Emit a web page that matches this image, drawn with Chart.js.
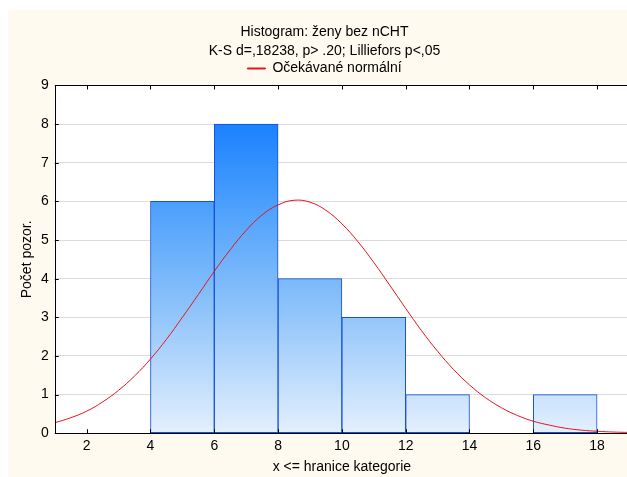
<!DOCTYPE html>
<html>
<head>
<meta charset="utf-8">
<script src="https://cdn.jsdelivr.net/npm/chart.js@4/dist/chart.umd.min.js"></script>
<style>
  html, body { margin:0; padding:0; background:#ffffff; overflow:hidden; }
  #wrap { width:627px; height:477px; overflow:hidden; position:relative; }
  canvas { display:block; }
</style>
</head>
<body>
<div id="wrap"><canvas id="c" width="629" height="477"></canvas></div>
<script>
// ---- data ----
const binCenters = [5, 7, 9, 11, 13, 15, 17];       // bins 4-6, 6-8, ... 16-18
const binCounts  = [6, 8, 4, 3, 1, 0, 1];
const curveX = [1,1.5,2,2.5,3,3.5,4,4.5,5,5.5,6,6.5,7,7.5,8,8.5,9,9.5,10,10.5,11,11.5,12,12.5,13,13.5,14,14.5,15,15.5,16,16.5,17,17.5,18,18.5,19];
const curveY = [0.27,0.40,0.57,0.81,1.11,1.48,1.92,2.43,3.00,3.59,4.19,4.75,5.25,5.65,5.91,6.03,5.98,5.77,5.42,4.96,4.42,3.83,3.23,2.65,2.12,1.65,1.25,0.92,0.66,0.46,0.31,0.21,0.13,0.08,0.05,0.03,0.02];
const xTicks = [2, 4, 6, 8, 10, 12, 14, 16, 18];
const titleLines = ['Histogram: ženy bez nCHT', 'K-S d=,18238, p> .20; Lilliefors p<,05'];
const curveLabel = 'Očekávané normální';
const xTitle = 'x <= hranice kategorie';
const yTitle = 'Počet pozor.';

const FONT = 'Arial, "Liberation Sans", sans-serif';

const barData = binCenters.map((x, i) => ({ x: x, y: binCounts[i] })).filter(p => p.y > 0);
const lineData = curveX.map((x, i) => ({ x: x, y: curveY[i] }));

function barGradient(ctx) {
  const chart = ctx.chart;
  const area = chart.chartArea;
  if (!area) return '#5aa8f8';
  const ys = chart.scales.y;
  const g = chart.ctx.createLinearGradient(0, ys.getPixelForValue(8.2), 0, ys.getPixelForValue(0));
  g.addColorStop(0, 'rgb(22,126,255)');
  g.addColorStop(0.3, 'rgb(80,162,252)');
  g.addColorStop(0.6, 'rgb(140,194,250)');
  g.addColorStop(1, 'rgb(228,240,253)');
  return g;
}

const bgPlugin = {
  id: 'bgPlugin',
  beforeDraw(chart) {
    const c = chart.ctx;
    c.save();
    c.fillStyle = '#fffaf0';
    c.fillRect(8, 10, chart.width - 8, chart.height - 10);
    const a = chart.chartArea;
    c.fillStyle = '#ffffff';
    c.fillRect(a.left, a.top, a.right - a.left, a.bottom - a.top);
    c.restore();
  },
  afterDraw(chart) {
    const c = chart.ctx;
    const a = chart.chartArea;
    const xs = chart.scales.x, ys = chart.scales.y;
    c.save();
    c.strokeStyle = '#000000';
    c.lineWidth = 1;
    c.beginPath();
    c.rect(Math.round(a.left) + 0.5, Math.round(a.top) + 0.5, Math.round(a.right - a.left), Math.round(a.bottom - a.top));
    c.stroke();
    c.beginPath();
    xTicks.forEach(v => {
      const px = Math.round(xs.getPixelForValue(v)) + 0.5;
      c.moveTo(px, a.bottom); c.lineTo(px, a.bottom - 4);
      c.moveTo(px, a.top); c.lineTo(px, a.top + 4);
    });
    for (let v = 0; v <= 9; v++) {
      const py = Math.round(ys.getPixelForValue(v)) + 0.5;
      c.moveTo(a.left, py); c.lineTo(a.left + 4, py);
    }
    c.stroke();
    c.restore();
  }
};

new Chart(document.getElementById('c'), {
  data: {
    datasets: [
      {
        type: 'line',
        label: curveLabel,
        data: lineData,
        borderColor: '#e8141e',
        backgroundColor: '#e8141e',
        borderWidth: 1,
        pointRadius: 0,
        tension: 0.4,
        fill: false,
        order: 0
      },
      {
        type: 'bar',
        label: 'bins',
        data: barData,
        backgroundColor: barGradient,
        borderColor: '#1450d2',
        borderWidth: 1,
        borderSkipped: false,
        barPercentage: 1,
        categoryPercentage: 1,
        order: 1
      }
    ]
  },
  options: {
    responsive: false,
    animation: false,
    layout: { padding: { left: 20, right: 0, top: 0, bottom: 3 } },
    plugins: {
      title: {
        display: true,
        text: titleLines,
        color: '#000000',
        font: { family: FONT, size: 14, weight: 'normal', lineHeight: 1.357 },
        padding: { top: 23, bottom: 0 }
      },
      legend: {
        display: true,
        labels: {
          filter: item => item.text === curveLabel,
          color: '#000000',
          font: { family: FONT, size: 14, lineHeight: 1 },
          boxWidth: 18,
          boxHeight: 1,
          padding: 0.5
        }
      },
      tooltip: { enabled: false }
    },
    scales: {
      x: {
        type: 'linear',
        offset: false,
        min: 1,
        max: 19,
        afterBuildTicks: s => { s.ticks = xTicks.map(v => ({ value: v })); },
        grid: { display: false, drawTicks: false, offset: false },
        border: { display: false },
        ticks: { color: '#000000', font: { family: FONT, size: 14 }, padding: 5, autoSkip: false, maxRotation: 0 },
        title: { display: true, text: xTitle, color: '#000000', font: { family: FONT, size: 14, lineHeight: 1 }, padding: { top: 0, bottom: 0 } }
      },
      y: {
        min: 0,
        max: 9,
        ticks: { stepSize: 1, color: '#000000', font: { family: FONT, size: 14 }, padding: 6 },
        grid: { color: '#dcdcdc', drawTicks: false, lineWidth: 1 },
        border: { display: false },
        title: { display: true, text: yTitle, color: '#000000', font: { family: FONT, size: 14, lineHeight: 1 }, padding: { top: 0, bottom: 1 } }
      }
    }
  },
  plugins: [bgPlugin]
});
</script>
</body>
</html>
